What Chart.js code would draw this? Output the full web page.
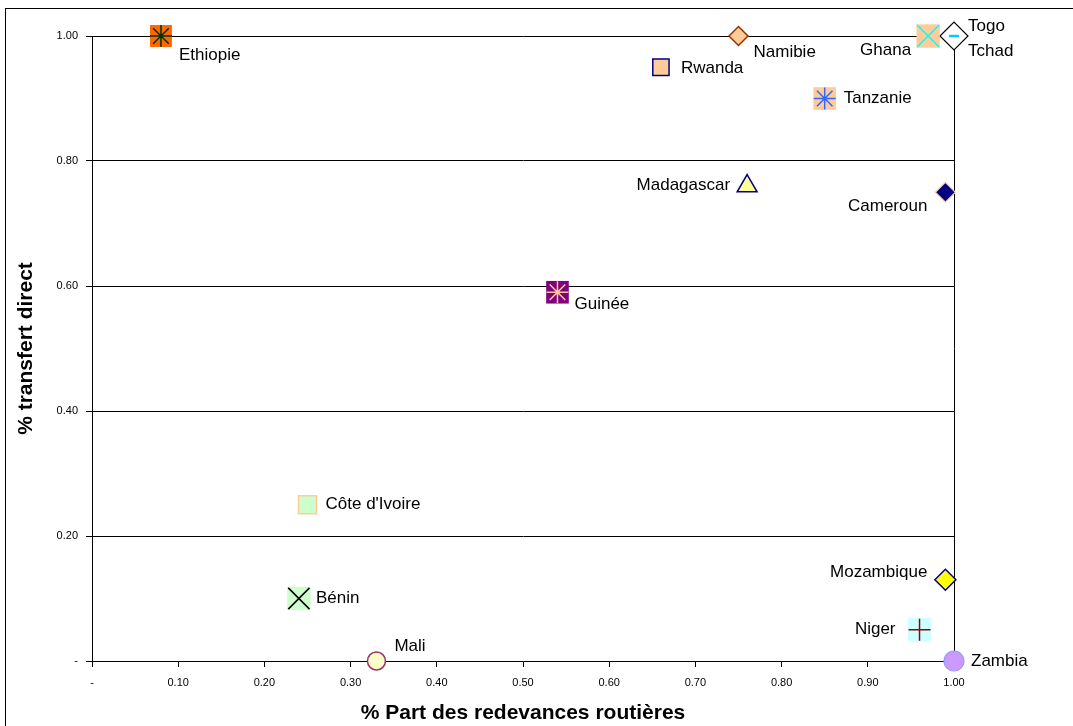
<!DOCTYPE html>
<html>
<head>
<meta charset="utf-8">
<script src="https://cdn.jsdelivr.net/npm/chart.js@4/dist/chart.umd.min.js"></script>
<style>
  html, body { margin: 0; padding: 0; background: #fff; }
  #wrap { position: relative; width: 1073px; height: 726px; }
</style>
</head>
<body>
<div id="wrap"><canvas id="c" width="1073" height="726"></canvas></div>
<script>
// Countries and their two ratios
const countries = ['Ethiopie', 'Namibie', 'Rwanda', 'Ghana', 'Togo', 'Tchad', 'Tanzanie', 'Madagascar',
  'Cameroun', 'Guinée', "Côte d'Ivoire", 'Bénin', 'Mali', 'Mozambique', 'Niger', 'Zambia'];
const roadShare      = [0.08, 0.75, 0.66, 0.97, 1.00, 1.00, 0.85, 0.76, 0.99, 0.54, 0.25, 0.24, 0.33, 0.99, 0.96, 1.00];
const directTransfer = [1.00, 1.00, 0.95, 1.00, 1.00, 1.00, 0.90, 0.76, 0.75, 0.59, 0.25, 0.10, 0.00, 0.13, 0.05, 0.00];

const xTickLabels = ['-', '0.10', '0.20', '0.30', '0.40', '0.50', '0.60', '0.70', '0.80', '0.90', '1.00'];
const yTickLabels = ['-', '0.20', '0.40', '0.60', '0.80', '1.00'];

// Marker per country: a base shape plus an optional overlay symbol
const markers = [
  { base: { style: 'rect', r: 15.5, fill: '#FF6600' }, mark: { style: 'star', r: 11, color: '#003300', bw: 1.5 } },
  { base: { style: 'rectRot', r: 9.5, fill: '#FFCC99', stroke: '#993300', bw: 1.5 } },
  { base: { style: 'rect', r: 11.5, fill: '#FFCC99', stroke: '#000080', bw: 1.5 } },
  { base: { style: 'rect', r: 16.5, fill: '#FFCC99' }, mark: { style: 'crossRot', r: 15.5, color: '#00FFFF', bw: 1.5 } },
  { base: { style: 'rectRot', r: 14, fill: '#FFFFFF', stroke: '#000000', bw: 1.2 } },
  { base: null, mark: { style: 'line', r: 5, color: '#00CCFF', bw: 2.5 }, top: true },
  { base: { style: 'rect', r: 16, fill: '#FFCC99' }, mark: { style: 'star', r: 11, color: '#3366FF', bw: 1.5 } },
  { base: { style: 'triangle', r: 11.5, fill: '#FFFF99', stroke: '#000080', bw: 1.5 } },
  { base: { style: 'rectRot', r: 10, fill: '#000080', stroke: '#FFCC99', bw: 1.2 } },
  { base: { style: 'rect', r: 16, fill: '#800080' }, mark: { style: 'star', r: 11, color: '#FFCC99', bw: 1.5 } },
  { base: { style: 'rect', r: 12.7, fill: '#CCFFCC', stroke: '#FFCC99', bw: 1.5 } },
  { base: { style: 'rect', r: 16.5, fill: '#CCFFCC' }, mark: { style: 'crossRot', r: 15, color: '#000000', bw: 1.5 } },
  { base: { style: 'circle', r: 9, fill: '#FFFFCC', stroke: '#993366', bw: 1.5 } },
  { base: { style: 'rectRot', r: 10.5, fill: '#FFFF00', stroke: '#000080', bw: 1.5 } },
  { base: { style: 'rect', r: 16.5, fill: '#CCFFFF' }, mark: { style: 'cross', r: 11, color: '#990000', bw: 1.5 } },
  { base: { style: 'circle', r: 10, fill: '#CC99FF', stroke: '#9999FF', bw: 1.2 } }
];

// Where each country name sits relative to its marker
const labelPlacement = [
  { dx: 18, dy: 19, align: 'left' },
  { dx: 15, dy: 16, align: 'left' },
  { dx: 20, dy: 1, align: 'left' },
  { dx: -17, dy: 14, align: 'right' },
  { dx: 14, dy: -10, align: 'left' },
  { dx: 14, dy: 15, align: 'left' },
  { dx: 19, dy: 0, align: 'left' },
  { dx: -17, dy: -1, align: 'right' },
  { dx: -18, dy: 14, align: 'right' },
  { dx: 17, dy: 12, align: 'left' },
  { dx: 18, dy: 0, align: 'left' },
  { dx: 17, dy: 0, align: 'left' },
  { dx: 18, dy: -15, align: 'left' },
  { dx: -18, dy: -7, align: 'right' },
  { dx: -24, dy: 0, align: 'right' },
  { dx: 17, dy: 0, align: 'left' }
];

const FONT = '"Liberation Sans", Arial, Helvetica, sans-serif';

const datasets = [];
countries.forEach((name, i) => {
  const pt = [{ x: roadShare[i], y: directTransfer[i] }];
  const m = markers[i];
  if (m.base) {
    datasets.push({
      label: name,
      data: pt,
      showLine: false,
      pointStyle: m.base.style,
      pointRadius: m.base.r,
      pointHoverRadius: m.base.r,
      backgroundColor: m.base.fill,
      borderColor: m.base.stroke || 'rgba(0,0,0,0)',
      pointBorderWidth: m.base.bw || 0,
      clip: false,
      order: 2
    });
  }
  if (m.mark) {
    datasets.push({
      label: name + ' (symbole)',
      data: pt,
      showLine: false,
      pointStyle: m.mark.style,
      pointRadius: m.mark.r,
      pointHoverRadius: m.mark.r,
      backgroundColor: 'rgba(0,0,0,0)',
      borderColor: m.mark.color,
      pointBorderWidth: m.mark.bw,
      clip: false,
      order: m.top ? 0 : 1
    });
  }
});

const countryLabels = {
  id: 'countryLabels',
  afterDatasetsDraw(chart) {
    const { ctx, scales: { x, y } } = chart;
    ctx.save();
    ctx.font = '17px ' + FONT;
    ctx.fillStyle = '#000';
    ctx.textBaseline = 'middle';
    countries.forEach((name, i) => {
      const p = labelPlacement[i];
      ctx.textAlign = p.align;
      ctx.fillText(name, x.getPixelForValue(roadShare[i]) + p.dx, y.getPixelForValue(directTransfer[i]) + p.dy);
    });
    ctx.restore();
  }
};

const outerFrame = {
  id: 'outerFrame',
  beforeDraw(chart) {
    const ctx = chart.ctx;
    ctx.save();
    ctx.fillStyle = '#fff';
    ctx.fillRect(0, 0, chart.width, chart.height);
    ctx.strokeStyle = '#000';
    ctx.lineWidth = 1;
    ctx.strokeRect(5.5, 8.5, 2000, 2000);
    ctx.restore();
  }
};

new Chart(document.getElementById('c'), {
  type: 'scatter',
  data: { datasets },
  options: {
    responsive: false,
    animation: false,
    devicePixelRatio: 1,
    layout: { padding: { left: 0, top: 36, right: 119, bottom: 0 } },
    plugins: { legend: { display: false }, tooltip: { enabled: false } },
    scales: {
      x: {
        type: 'linear', min: 0, max: 1,
        ticks: {
          stepSize: 0.1, autoSkip: false, maxRotation: 0, padding: 9, color: '#000',
          font: { family: FONT, size: 11 },
          callback: (v, i) => xTickLabels[i]
        },
        grid: {
          color: c => (c.index === xTickLabels.length - 1 ? '#000' : 'rgba(0,0,0,0)'),
          tickColor: '#000', tickLength: 6, lineWidth: 1
        },
        border: { color: '#000', width: 1 },
        title: {
          display: true, text: '% Part des redevances routières', color: '#000',
          font: { family: FONT, size: 21, weight: 'bold' }, padding: { top: 0, bottom: 0 }
        },
        afterFit: s => { s.height = 65; }
      },
      y: {
        type: 'linear', min: 0, max: 1,
        ticks: {
          stepSize: 0.2, autoSkip: false, padding: 8, color: '#000',
          font: { family: FONT, size: 11 },
          callback: (v, i) => yTickLabels[i]
        },
        grid: { color: '#000', tickColor: '#000', tickLength: 6, lineWidth: 1 },
        border: { color: '#000', width: 1 },
        title: {
          display: true, text: '% transfert direct', color: '#000',
          font: { family: FONT, size: 21, weight: 'bold' }, padding: { top: 14, bottom: 0 }
        },
        afterFit: s => { s.width = 92; }
      }
    }
  },
  plugins: [outerFrame, countryLabels]
});
</script>
</body>
</html>
